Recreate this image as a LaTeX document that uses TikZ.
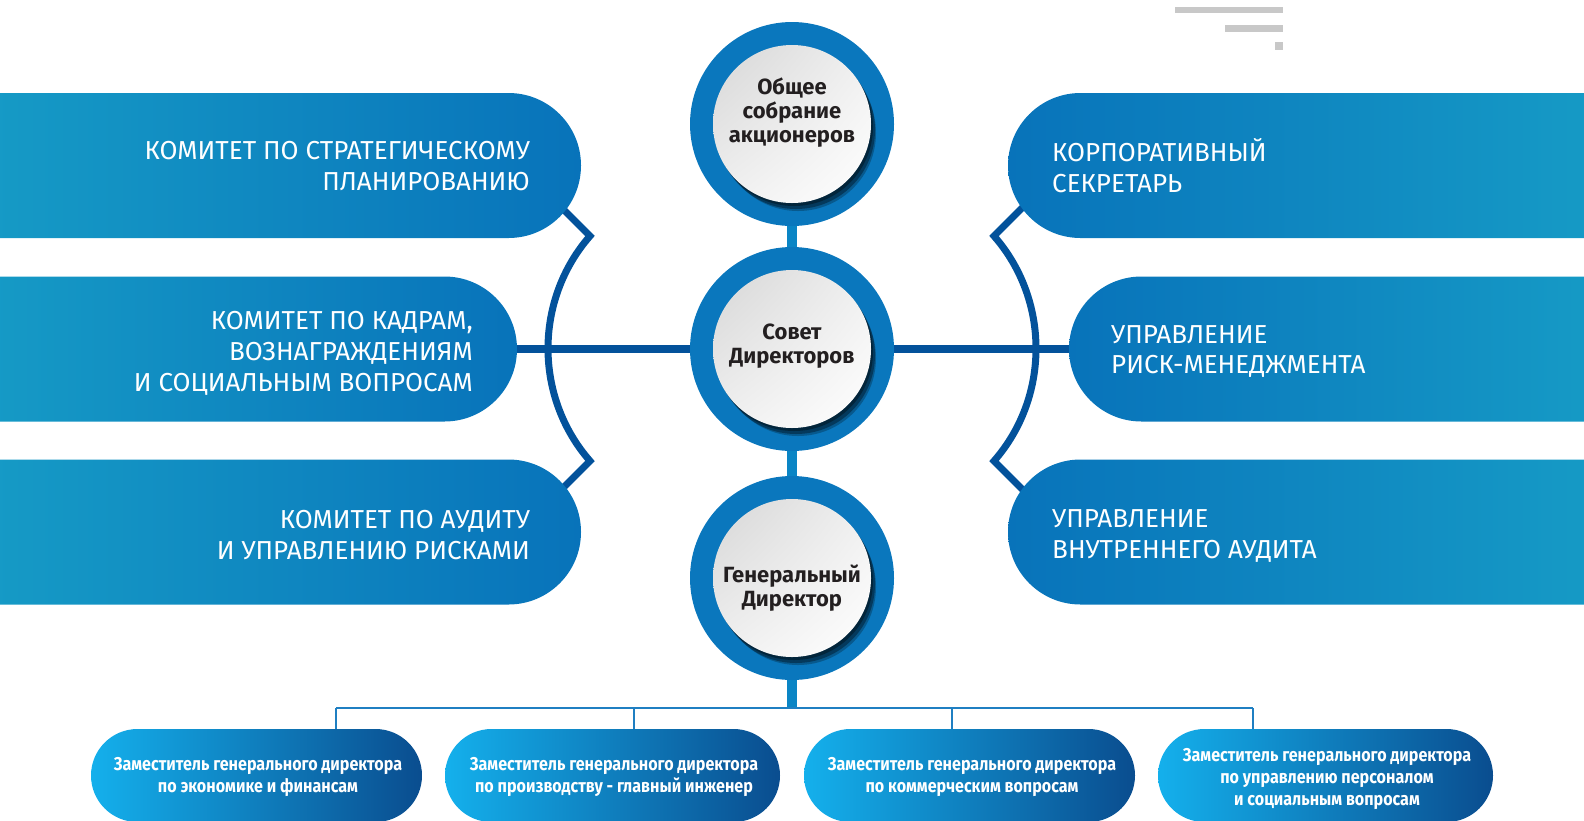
\documentclass[tikz,border=0pt]{standalone}
\usepackage{fontspec}
\setmainfont{Fira Sans}
\newfontfamily\capfont{Fira Sans}
\newfontfamily\condfont[FakeStretch=0.87]{Fira Sans}
\usetikzlibrary{shapes.misc,calc,backgrounds,shadings}
\definecolor{tealL}{HTML}{169BC6}
\definecolor{blueR}{HTML}{0873BA}
\definecolor{ringc}{HTML}{0A77BD}
\definecolor{conn}{HTML}{03529B}
\definecolor{barc}{HTML}{0A85C5}
\definecolor{thinc}{HTML}{1F7FC2}
\definecolor{cyanL}{HTML}{14B0EC}
\definecolor{navyR}{HTML}{0A4D8F}
\definecolor{greybar}{HTML}{C8C8C8}
\definecolor{darktext}{HTML}{231F20}
\tikzset{
  lbox/.style={rounded rectangle, rounded rectangle left arc=none, minimum height=145pt, inner sep=0pt, left color=tealL, right color=blueR, draw=none},
  rbox/.style={rounded rectangle, rounded rectangle right arc=none, minimum height=145pt, inner sep=0pt, left color=blueR, right color=tealL, draw=none},
  captext/.style={text=white, font=\capfont\fontsize{26}{31}\selectfont, inner sep=0pt},
  ringnode/.style={circle, fill=ringc, minimum size=204pt, inner sep=0pt},
  circtext/.style={text=darktext, font=\bfseries\fontsize{22}{24}\selectfont, align=center, inner sep=0pt},
  zbox/.style={rounded rectangle, minimum height=93pt, inner sep=0pt, left color=cyanL, right color=navyR, draw=none},
  ztext/.style={text=white, font=\condfont\bfseries\fontsize{18.5}{22}\selectfont, align=center, inner sep=0pt},
  thickconn/.style={draw=conn, line width=8pt},
  bracket/.style={draw=conn, line width=7pt, line join=miter},
  vbar/.style={draw=barc, line width=10pt},
  thinline/.style={draw=thinc, line width=2.5pt}
}
\begin{document}
\begin{tikzpicture}[x=1pt,y=-1pt]
\useasboundingbox (0,0) rectangle (1584,820);
\clip (0,0) rectangle (1584,820);
% grey bars
\fill[greybar] (1175,7) rectangle (1283,13);
\fill[greybar] (1225,25) rectangle (1283,32);
\fill[greybar] (1275,42) rectangle (1283,50);
% left boxes
\node[lbox, minimum width=601pt] (k1) at (280.5,165.5) {};
\node[lbox, minimum width=537pt] (k2) at (248.5,349) {};
\node[lbox, minimum width=601pt] (k3) at (280.5,532) {};
% right boxes
\node[rbox, minimum width=596pt] (k4) at (1306,165.5) {};
\node[rbox, minimum width=535pt] (k5) at (1336.5,349) {};
\node[rbox, minimum width=596pt] (k6) at (1306,532) {};
% box texts
\node[captext, anchor=east, align=right] (k1t) at (530,166) {КОМИТЕТ ПО СТРАТЕГИЧЕСКОМУ\\ПЛАНИРОВАНИЮ};
\node[captext, anchor=east, align=right] (k2t) at (473,353) {КОМИТЕТ ПО КАДРАМ,\\ВОЗНАГРАЖДЕНИЯМ\\И СОЦИАЛЬНЫМ ВОПРОСАМ};
\node[captext, anchor=east, align=right] (k3t) at (530,535.5) {КОМИТЕТ ПО АУДИТУ\\И УПРАВЛЕНИЮ РИСКАМИ};
\node[captext, anchor=west, align=left] (k4t) at (1052,166) {КОРПОРАТИВНЫЙ\\СЕКРЕТАРЬ};
\node[captext, anchor=west, align=left, font=\capfont\fontsize{26}{30}\selectfont] (k5t) at (1111,351) {УПРАВЛЕНИЕ\\РИСК-МЕНЕДЖМЕНТА};
\node[captext, anchor=west, align=left] (k6t) at (1052,535.5) {УПРАВЛЕНИЕ\\ВНУТРЕННЕГО АУДИТА};
% circles
\node[ringnode] (os) at (792,124) {};
\node[ringnode] (sd) at (792,349) {};
\node[ringnode] (gd) at (792,578) {};
\foreach \n in {os,sd,gd}{
  \fill[black, opacity=0.35] ($(\n)+(2,3)$) circle (79pt);
  \fill[black, opacity=0.35] ($(\n)+(4,6)$) circle (79pt);
  \fill[black, opacity=0.25] ($(\n)+(6,9)$) circle (78pt);
  \shade[upper left=black!16!white, upper right=black!6!white, lower left=black!6!white, lower right=white] (\n) circle (79pt);
}
\node[circtext] (ost) at (792,113) {Общее\\собрание\\акционеров};
\node[circtext] (sdt) at (792,346) {Совет\\Директоров};
\node[circtext] (gdt) at (792,588) {Генеральный\\Директор};
% bottom boxes
\node[zbox, minimum width=331pt] (z1) at (256.5,775.5) {};
\node[zbox, minimum width=335pt] (z2) at (612.5,775.5) {};
\node[zbox, minimum width=331pt] (z3) at (969.5,775.5) {};
\node[zbox, minimum width=335pt] (z4) at (1325.5,775.5) {};
\node[ztext] (z1t) at (258,777) {Заместитель генерального директора\\по экономике и финансам};
\node[ztext] (z2t) at (614,777) {Заместитель генерального директора\\по производству - главный инженер};
\node[ztext] (z3t) at (972,777) {Заместитель генерального директора\\по коммерческим вопросам};
\node[ztext] (z4t) at (1327,779) {Заместитель генерального директора\\по управлению персоналом\\и социальным вопросам};
% connectors
\coordinate (Lt) at (590,236);
\coordinate (Lb) at (590,461);
\coordinate (Lt0) at (545,191);
\coordinate (Lb0) at (545,506);
\coordinate (Rt) at (994,236);
\coordinate (Rb) at (994,461);
\coordinate (Rt0) at (1039,191);
\coordinate (Rb0) at (1039,506);
\coordinate (hb) at (792,708);
\coordinate (d1) at (336,708);
\coordinate (d2) at (634,708);
\coordinate (d3) at (952,708);
\coordinate (d4) at (1253,708);
\begin{pgfonlayer}{background}
\draw[bracket] (Lt0) -- (Lt) .. controls (534,300) and (534,397) .. (Lb) -- (Lb0);
\draw[bracket] (Rt0) -- (Rt) .. controls (1050,300) and (1050,397) .. (Rb) -- (Rb0);
\draw[thickconn] (k2.east) -- (sd.west);
\draw[thickconn] (sd.east) -- (k5.west);
\draw[vbar] (os.south) -- (sd.north);
\draw[vbar] (sd.south) -- (gd.north);
\draw[vbar] (gd.south) -- ($(hb)+(0,1)$);
\draw[thinline] (d1) -- (d4);
\draw[thinline] (d1) -- (d1 |- z1.north);
\draw[thinline] (d2) -- (d2 |- z2.north);
\draw[thinline] (d3) -- (d3 |- z3.north);
\draw[thinline] (d4) -- (d4 |- z4.north);
\end{pgfonlayer}
\end{tikzpicture}
\end{document}
